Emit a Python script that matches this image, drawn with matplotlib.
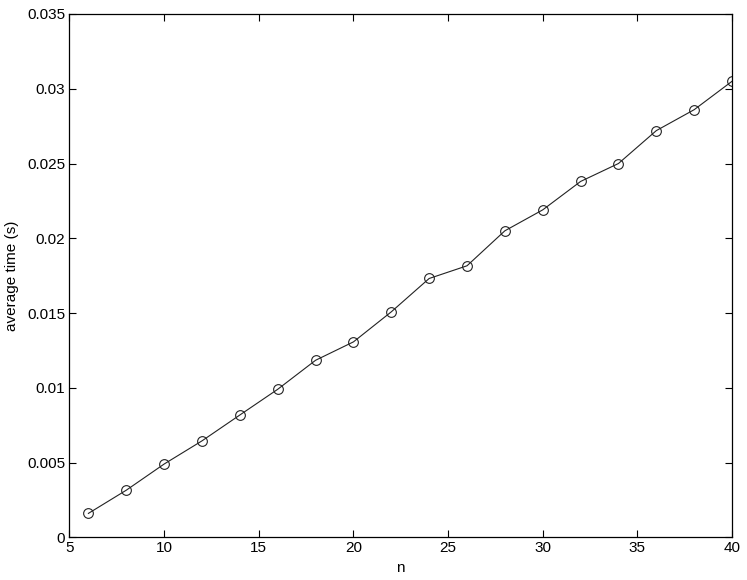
import numpy as np
import matplotlib
matplotlib.use('Agg')
import matplotlib.pyplot as plt

plt.rcParams['font.family'] = ['Liberation Sans', 'DejaVu Sans']

n = [6, 8, 10, 12, 14, 16, 18, 20, 22, 24, 26, 28, 30, 32, 34, 36, 38, 40]
avg_time = [0.0016, 0.00315, 0.0049, 0.00645, 0.00818, 0.0099, 0.01184,
            0.01307, 0.01508, 0.01731, 0.01816, 0.0205, 0.0219, 0.0238,
            0.0250, 0.0272, 0.0286, 0.0305]

fig = plt.figure(figsize=(7.47, 5.8), dpi=100)
ax = fig.add_axes([0.093, 0.0736, 0.887, 0.9023])

ax.plot(n, avg_time, '-', color='#222222', lw=0.8, marker='o', markersize=7,
        markerfacecolor='none', markeredgewidth=0.8)

ax.set_xlim(5, 40)
ax.set_ylim(0, 0.035)
ax.set_xticks(np.arange(5, 41, 5))
ax.set_yticks(np.arange(0, 0.0351, 0.005))
ax.set_yticklabels(['0', '0.005', '0.01', '0.015', '0.02', '0.025', '0.03', '0.035'])

ax.tick_params(direction='in', top=True, right=True, length=5, width=0.8,
               labelsize=11, pad=3)
for s in ax.spines.values():
    s.set_linewidth(0.9)

ax.set_xlabel('n', fontsize=11, labelpad=4)
ax.set_ylabel('average time (s)', fontsize=11, labelpad=6)

fig.savefig('out.png', dpi=100)
